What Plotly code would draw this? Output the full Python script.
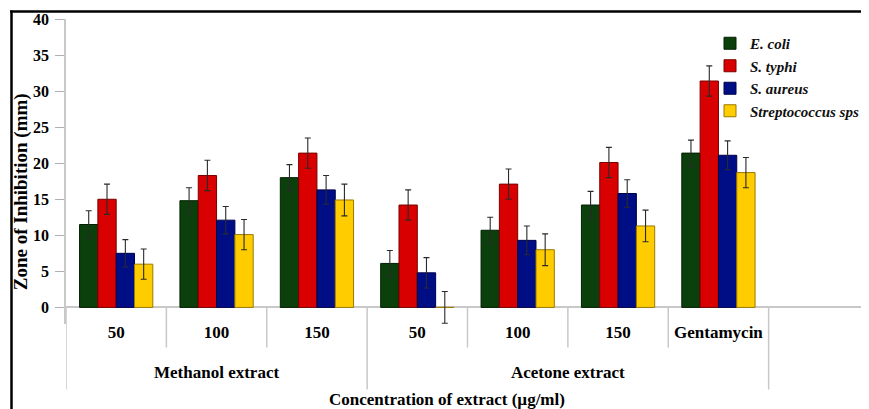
import plotly.graph_objects as go

# ---------------- data ----------------
categories = ["50", "100", "150", "50", "100", "150", "Gentamycin"]
groups = ["Methanol extract", "Acetone extract"]
group_spans = [(0, 2), (3, 6)]  # category index spans of each group

series_names = ["E. coli", "S. typhi", "S. aureus", "Streptococcus sps"]
ecoli = [11.5, 14.8, 18.0, 6.1, 10.7, 14.2, 21.4]
styphi = [15.0, 18.3, 21.4, 14.2, 17.1, 20.1, 31.4]
saureus = [7.5, 12.1, 16.3, 4.8, 9.3, 15.8, 21.1]
strep = [6.0, 10.1, 14.9, 0.0, 8.0, 11.3, 18.7]

ecoli_err = [1.9, 1.8, 1.8, 1.8, 1.8, 1.9, 1.8]
styphi_err = [2.1, 2.1, 2.1, 2.1, 2.1, 2.1, 2.1]
saureus_err = [1.9, 1.9, 2.0, 2.1, 2.0, 1.9, 2.0]
strep_err = [2.1, 2.1, 2.2, 2.2, 2.2, 2.2, 2.1]

y_ticks = [0, 5, 10, 15, 20, 25, 30, 35, 40]

fill_colors = ["#0b3f0b", "#d80000", "#000e86", "#ffcc00"]
edge_colors = ["#042004", "#7a0000", "#00004a", "#9a7a00"]

values = [ecoli, styphi, saureus, strep]
errors = [ecoli_err, styphi_err, saureus_err, strep_err]

# ---------------- layout geometry ----------------
# page body has an 8px default margin; all targets below are window pixels
OFF = 8
WIN_W, WIN_H = 869, 409
W, H = WIN_W - OFF, WIN_H - OFF
PLOT_LEFT, PLOT_RIGHT, PLOT_TOP = 66, 869, 19      # window px
Y_MIN, Y_MAX = -2.3, 40
PX_PER_UNIT = (307 - 19) / 40.0
PLOT_BOTTOM = 307 + (-Y_MIN) * PX_PER_UNIT
M_L = PLOT_LEFT - OFF
M_R = WIN_W - PLOT_RIGHT
M_T = PLOT_TOP - OFF
M_B = WIN_H - PLOT_BOTTOM
PLOT_H = PLOT_BOTTOM - PLOT_TOP
PLOT_W = PLOT_RIGHT - PLOT_LEFT


def py(ypx):
    """window pixel row -> paper y"""
    return (PLOT_BOTTOM - ypx) / PLOT_H


def px(xpx):
    """window pixel column -> paper x"""
    return (xpx - PLOT_LEFT) / PLOT_W


FONT = "Liberation Serif, Times New Roman, serif"
xs = list(range(len(categories)))

fig = go.Figure()
for name, v, e, fc, ec in zip(series_names, values, errors, fill_colors, edge_colors):
    fig.add_trace(go.Bar(
        x=xs, y=v, name=f"<b><i>{name}</i></b>",
        marker=dict(color=fc, line=dict(color=ec, width=1)),
        error_y=dict(type="data", array=e, visible=True, color="#2a2a2a",
                     thickness=1.1, width=3),
    ))

shapes = []
group_bounds = set()
for a, b in group_spans:
    group_bounds.add(a - 0.5)
    group_bounds.add(b + 0.5)
for i in range(len(categories) + 1):
    xb = i - 0.5
    long = xb in group_bounds
    shapes.append(dict(type="line", xref="x", yref="paper", x0=xb, x1=xb,
                       y0=py(307), y1=py(389 if long else 347),
                       line=dict(color="#c8c8c8", width=1.5)))
# outer black frame (top + left visible)
shapes.append(dict(type="line", xref="paper", yref="paper",
                   x0=px(10), x1=px(880), y0=py(11.5), y1=py(11.5),
                   line=dict(color="black", width=2.5)))
shapes.append(dict(type="line", xref="paper", yref="paper",
                   x0=px(11.5), x1=px(11.5), y0=py(10.5), y1=py(420),
                   line=dict(color="black", width=2.5)))

annotations = []
for (a, b), g in zip(group_spans, groups):
    annotations.append(dict(x=(a + b) / 2, y=py(372), xref="x", yref="paper",
                            xanchor="center", yanchor="middle",
                            text=f"<b>{g}</b>", showarrow=False,
                            font=dict(family=FONT, size=17, color="black")))
annotations.append(dict(x=px(447), y=py(399), xref="paper", yref="paper",
                        xanchor="center", yanchor="middle",
                        text="<b>Concentration of extract (µg/ml)</b>", showarrow=False,
                        font=dict(family=FONT, size=17, color="black")))
annotations.append(dict(x=px(21), y=py(192), xref="paper", yref="paper",
                        xanchor="center", yanchor="middle",
                        text="<b>Zone of Inhibition (mm)</b>", showarrow=False,
                        textangle=-90,
                        font=dict(family=FONT, size=19, color="black")))

fig.update_layout(
    width=W, height=H,
    margin=dict(l=M_L, r=M_R, t=M_T, b=M_B, pad=0, autoexpand=False),
    paper_bgcolor="white", plot_bgcolor="white",
    barmode="group", bargap=0.27, bargroupgap=0,
    showlegend=True,
    legend=dict(x=px(710), y=py(27), xanchor="left", yanchor="top",
                font=dict(family=FONT, size=15, color="#111"),
                bgcolor="rgba(0,0,0,0)", tracegroupgap=0, itemwidth=30),
    xaxis=dict(range=[-0.5, 7.5], tickmode="array", tickvals=xs,
               ticktext=[f"<b>{c}</b>" for c in categories],
               tickfont=dict(family=FONT, size=17, color="black"),
               ticks="", showline=False, showgrid=False, zeroline=False,
               ticklabelstandoff=-4, fixedrange=True),
    yaxis=dict(range=[Y_MIN, Y_MAX], tickmode="array", tickvals=y_ticks,
               ticktext=[f"<b>{t}</b>" for t in y_ticks],
               tickfont=dict(family=FONT, size=16, color="black"),
               ticks="outside", ticklen=9, tickcolor="#b0b0b0",
               showline=True, linecolor="#c8c8c8", linewidth=1.5,
               showgrid=False, zeroline=True, zerolinecolor="#c8c8c8",
               zerolinewidth=1.5, ticklabelstandoff=3),
    shapes=shapes, annotations=annotations,
)

fig.write_html("out.html")
